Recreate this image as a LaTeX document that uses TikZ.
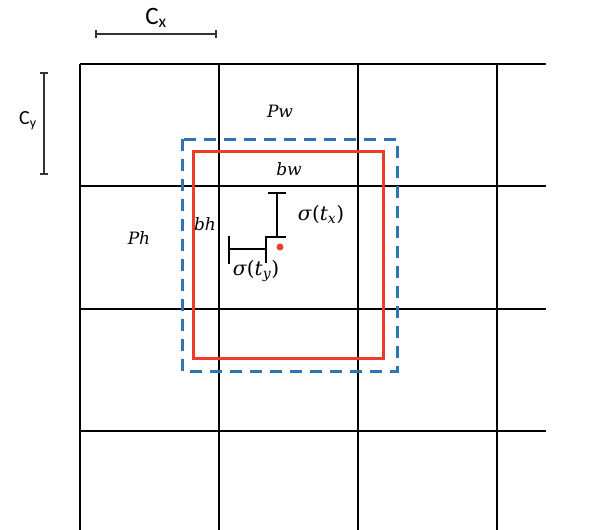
\documentclass[tikz,border=0pt]{standalone}
\usepackage{fontspec}
\newfontfamily\labelfont{DejaVu Serif}
\newfontfamily\scalefont{Carlito}
\usetikzlibrary{arrows.meta}
\definecolor{boxred}{HTML}{EE3B2B}
\definecolor{priorblue}{HTML}{2E75B6}
\definecolor{scalegray}{HTML}{333333}
\tikzset{
  gridline/.style={black,line width=2pt},
  scalebar/.style={scalegray,line width=2pt,{Bar[width=8pt]}-{Bar[width=8pt]}},
  marker/.style={black,line width=2pt},
  mathlabel/.style={inner sep=0pt,font=\labelfont\itshape\fontsize{17}{20}\selectfont},
  sigmalabel/.style={inner sep=0pt,font=\labelfont\fontsize{20}{24}\selectfont}
}
\newcommand{\offs}[1]{\textit{σ}(\textit{t}\textsubscript{\textit{#1}})}
\begin{document}
\begin{tikzpicture}[x=1pt,y=-1pt]
\useasboundingbox (0,0) rectangle (590,530);

% grid cells
\foreach \x in {80,219,358,497}
  \draw[gridline] (\x,64) -- (\x,530);
\foreach \y in {64,186,309,431}
  \draw[gridline] (80,\y) -- (546,\y);

% cell size
\coordinate (cxa) at (95,34);
\coordinate (cxb) at (217,34);
\draw[scalebar] (cxa) -- (cxb);
\node[inner sep=0pt] (cx) at (156,18) {\scalefont\fontsize{25}{28}\selectfont C\textsubscript{x}};

\coordinate (cya) at (44,72);
\coordinate (cyb) at (44,175);
\draw[scalebar] (cya) -- (cyb);
\node[inner sep=0pt] (cy) at (28,121) {\scalefont\fontsize{20}{24}\selectfont C\textsubscript{y}};

% prior and predicted box
\draw[priorblue,line width=3pt,dash pattern=on 12pt off 8pt] (182,139) rectangle (397,371);
\draw[boxred,line width=3pt] (193,151) rectangle (383,358);
\filldraw[boxred] (280,247) circle (3.2);

% offsets
\draw[marker] (268,193) -- (286,193);
\draw[marker] (277,193) -- (277,237);
\draw[marker] (265,237) -- (286,237);
\draw[marker] (266,237) -- (266,263);
\draw[marker] (229,249) -- (266,249);
\draw[marker] (229,236) -- (229,264);

% labels
\node[mathlabel] (pw) at (280,111) {Pw};
\node[mathlabel] (ph) at (139,238) {Ph};
\node[mathlabel] (bw) at (289,169) {bw};
\node[mathlabel] (bh) at (205,224) {bh};
\node[sigmalabel] (tx) at (321,214) {\offs{x}};
\node[sigmalabel] (ty) at (256,271) {\offs{y}};
\end{tikzpicture}
\end{document}
